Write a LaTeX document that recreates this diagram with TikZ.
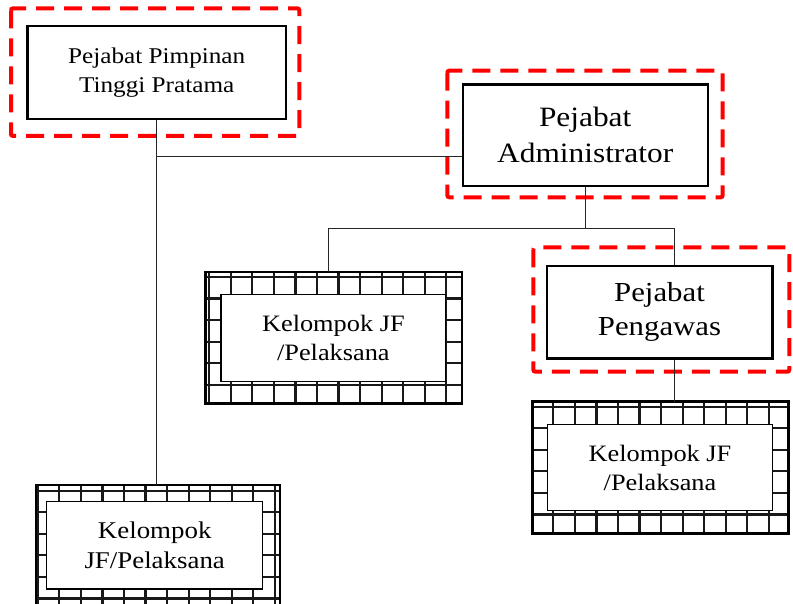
\documentclass[tikz,border=0pt]{standalone}
\usepackage{fontspec}
\setmainfont{Liberation Serif}[FakeStretch=1.12]
\usetikzlibrary{fit,calc}

% Hatched frame: a node named #1 spanning (#2,#3)-(#4,#5), filled with a
% square grid whose first lines sit #6 and #7 from the left and top edges.
\newcommand\hatchframe[7]{%
  \node[fit={(#2,#3) (#4,#5)}, inner sep=0pt] (#1) {};
  \begin{scope}
    \clip (#2,#3) rectangle (#4,#5);
    \pgfmathsetmacro\hfxa{#2+#6-21.55}
    \pgfmathsetmacro\hfxb{\hfxa+21.55}
    \pgfmathsetmacro\hfya{#3+#7-21.55}
    \pgfmathsetmacro\hfyb{\hfya+21.55}
    \foreach \gx in {\hfxa,\hfxb,...,#4} \draw[gridln] (\gx,#3) -- (\gx,#5);
    \foreach \gy in {\hfya,\hfyb,...,#5} \draw[gridln] (#2,\gy) -- (#4,\gy);
  \end{scope}
  \draw[line width=2.8bp] (#2,#3) rectangle (#4,#5);
}

\begin{document}
\begin{tikzpicture}[x=1bp,y=-1bp,
  box/.style={draw=black, line width=2.4bp, fill=white, align=center, inner sep=0pt},
  innerbox/.style={draw=black, line width=1.2bp, fill=white, align=center, inner sep=0pt},
  redframe/.style={draw=red, line width=4bp, dash pattern=on 18bp off 10bp, rounded corners=2bp},
  conn/.style={draw=black!85, line width=1bp},
  gridln/.style={line width=2.2bp, draw=black!90}
]
\useasboundingbox (0,0) rectangle (793,604);

% dashed highlight frames
\draw[redframe] (11,8.3) rectangle (299.3,136);
\draw[redframe] (447.3,70.7) rectangle (722.7,197.3);
\draw[redframe] (533.3,247.3) rectangle (789.3,371.7);

% hatched group frames
\hatchframe{j1o}{205.3}{272}{462}{403.5}{3.9}{5}
\hatchframe{j2o}{532.7}{401.7}{788.3}{533.3}{20.6}{5}
\hatchframe{j3o}{36}{485}{280}{616}{23.3}{5.7}

% positions
\node[box, minimum width=258.7bp, minimum height=93bp,
      font=\fontsize{22.5bp}{29bp}\selectfont] (p) at (156.7,72.5)
      {Pejabat Pimpinan\\Tinggi Pratama};
\node[box, minimum width=245bp, minimum height=101.7bp,
      font=\fontsize{28bp}{36bp}\selectfont] (a) at (585.2,135.2)
      {Pejabat\\Administrator};
\node[box, minimum width=225.6bp, minimum height=92.3bp,
      font=\fontsize{27.5bp}{34bp}\selectfont] (g) at (659.5,312.2)
      {Pejabat\\Pengawas};

% connectors
\coordinate (pa) at ($(a.west)+(0,21.5)$);
\coordinate (bus) at ($(a.south)+(0,41.5)$);
\coordinate (j1t) at ($(j1o.north)+(-5.4,0)$);
\coordinate (gt) at ($(g.north)+(14.8,0)$);
\coordinate (gb) at ($(g.south)+(14.8,0)$);
\draw[conn] (p.south) -- (p.south |- j3o.north);
\draw[conn] (p.south |- pa) -- (pa);
\draw[conn] (a.south) -- (bus);
\draw[conn] (j1t) -- (j1t |- bus) -- (gt |- bus) -- (gt);
\draw[conn] (gb) -- (gb |- j2o.north);

% group labels
\node[innerbox, minimum width=224.7bp, minimum height=87.4bp,
      font=\fontsize{23.5bp}{29bp}\selectfont] (j1) at (333.35,338)
      {Kelompok JF\\/Pelaksana};
\node[innerbox, minimum width=224.6bp, minimum height=86.4bp,
      font=\fontsize{23.5bp}{29bp}\selectfont] (j2) at (660,467.5)
      {Kelompok JF\\/Pelaksana};
\node[innerbox, minimum width=216bp, minimum height=87.3bp,
      font=\fontsize{24bp}{30bp}\selectfont] (j3) at (154.7,545.35)
      {Kelompok\\JF/Pelaksana};
\end{tikzpicture}
\end{document}
